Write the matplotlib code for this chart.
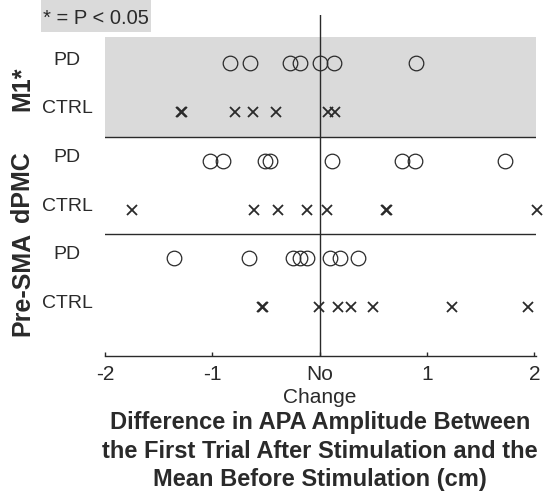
import numpy as np
import matplotlib
matplotlib.use("Agg")
from matplotlib import pyplot as plt
from matplotlib.patches import Rectangle
from matplotlib.transforms import blended_transform_factory

plt.rcParams['font.family'] = ['Liberation Sans', 'DejaVu Sans']

# change in APA amplitude (cm), one value per subject
m1_pd = [-0.84, -0.65, -0.275, -0.18, 0.005, 0.13, 0.90]
m1_ctrl = [-1.29, -1.28, -0.79, -0.62, -0.405, 0.08, 0.145]
dpmc_pd = [-1.02, -0.90, -0.51, -0.46, 0.11, 0.77, 0.89, 1.73]
dpmc_ctrl = [-1.75, -0.61, -0.385, -0.12, 0.067, 0.62, 0.63, 2.02]
presma_pd = [-1.36, -0.66, -0.245, -0.18, -0.12, 0.10, 0.19, 0.36]
presma_ctrl = [-0.54, -0.53, -0.01, 0.17, 0.29, 0.50, 1.23, 1.94]

groups = ['M1*', 'dPMC', 'Pre-SMA']
row_names = ['PD', 'CTRL']
tick_vals = [-2, -1, 0, 1, 2]
tick_text = ['-2', '-1', 'No\nChange', '1', '2']

ink = '#2a2a2a'
shade = '#dadada'

fig = plt.figure(figsize=(5.47, 5.02), dpi=100)
ax = fig.add_axes([0.192, 0.2894, 0.787, 0.6793])
ax.set_xlim(-2, 2.01)
ax.set_ylim(-1, 6)

# shaded block behind the M1 rows
ax.axhspan(3.5, 5.54, color=shade, lw=0, zorder=0)
for yy in (3.5, 1.5):
    ax.axhline(yy, color=ink, lw=1.0, zorder=1)
ax.axvline(0, color=ink, lw=1.0, zorder=1)

rows = [(m1_pd, m1_ctrl), (dpmc_pd, dpmc_ctrl), (presma_pd, presma_ctrl)]
for k, (pd_vals, ctrl_vals) in enumerate(rows):
    y_pd = 5 - 2 * k
    y_ctrl = y_pd - 1
    ax.plot(pd_vals, np.full(len(pd_vals), y_pd), ls='none', marker='o',
            ms=10.5, mfc='none', mec=ink, mew=0.9, clip_on=False, zorder=3)
    ax.plot(ctrl_vals, np.full(len(ctrl_vals), y_ctrl), ls='none', marker='x',
            ms=6.8, mec=ink, mew=1.3, clip_on=False, zorder=3)

# row and group labels on the left
tr = blended_transform_factory(fig.transFigure, ax.transData)
for k, g in enumerate(groups):
    y_pd = 5 - 2 * k
    ax.text(0.123, y_pd + 0.09, row_names[0], transform=tr, ha='center',
            va='center', fontsize=14, color=ink)
    ax.text(0.123, y_pd - 1 + 0.09, row_names[1], transform=tr, ha='center',
            va='center', fontsize=14, color=ink)
    ax.text(0.040, y_pd - 0.5, g, transform=tr, ha='center', va='center',
            rotation=90, fontsize=18, fontweight='bold', color=ink)

for side in ('top', 'right', 'left'):
    ax.spines[side].set_visible(False)
ax.spines['bottom'].set_color(ink)
ax.spines['bottom'].set_linewidth(1.0)
ax.set_yticks([])
ax.set_xticks(tick_vals)
ax.set_xticklabels(tick_text, fontsize=15, color=ink, linespacing=1.25)
ax.tick_params(axis='x', direction='in', length=3, width=1, colors=ink, pad=6)

fig.text(0.585, 0.1012,
         'Difference in APA Amplitude Between\n'
         'the First Trial After Stimulation and the\n'
         'Mean Before Stimulation (cm)',
         ha='center', va='center', fontsize=17, fontweight='bold',
         color=ink, linespacing=1.32)

# significance key
fig.patches.append(Rectangle((0.0744, 0.934), 0.2017, 0.066,
                             transform=fig.transFigure, color=shade, lw=0))
fig.text(0.079, 0.964, '* = P < 0.05', ha='left', va='center',
         fontsize=14.5, color=ink)

fig.savefig('out.png', dpi=100)
